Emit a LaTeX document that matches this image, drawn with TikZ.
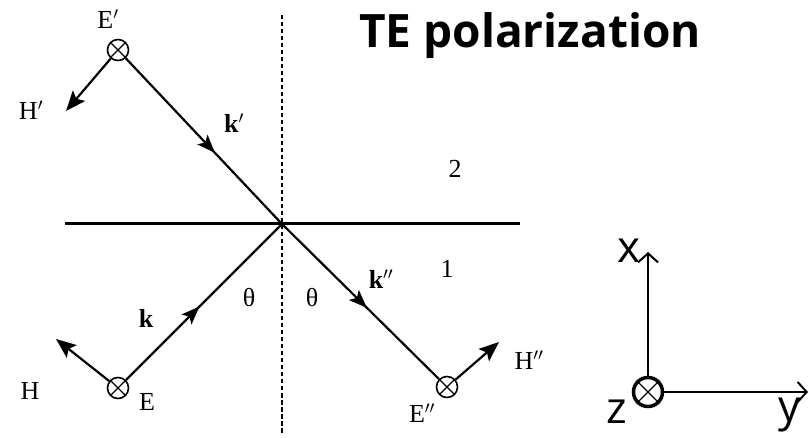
\documentclass[tikz,border=0pt]{standalone}
\usepackage{fontspec}
\setmainfont{Liberation Serif}
\newfontfamily\titlefont{Open Sans}
\usetikzlibrary{arrows.meta,decorations.markings}
\tikzset{
  ox/.style={circle, draw, minimum size=21pt, inner sep=0pt, line width=1.6pt,
    path picture={\draw[line width=1.4pt] (path picture bounding box.north west) -- (path picture bounding box.south east)
      (path picture bounding box.north east) -- (path picture bounding box.south west);}},
  ray/.style={line width=2.2pt, postaction={decorate},
    decoration={markings, mark=at position #1 with {\arrow{Stealth[length=18pt,width=14pt,inset=4pt]}}}},
  harrow/.style={line width=2.2pt, -{Stealth[length=20pt,width=16pt,inset=4pt]}},
  lbl/.style={font=\fontsize{26}{26}\selectfont, inner sep=0pt},
  klbl/.style={font=\fontsize{26}{26}\selectfont\bfseries, inner sep=0pt},
  axlbl/.style={font=\titlefont\fontsize{44}{44}\selectfont, inner sep=0pt},
  axis/.style={line width=2pt, -{Straight Barb[length=9pt,width=20pt,line width=2pt]}}
}
\begin{document}
\begin{tikzpicture}[x=1pt,y=-1pt]
\useasboundingbox (0,0) rectangle (809,438);
% interface and normal
\draw[line width=3pt] (65,224) -- (520,224);
\draw[line width=1.3pt, dash pattern=on 4.5pt off 2.5pt] (282,15) -- (282,434);
\coordinate (O) at (282,224);
% circles
\node[ox] (Ep) at (118,50) {};
\node[ox] (E) at (118,388) {};
\node[ox] (Epp) at (447,387) {};
% rays
\draw[ray=0.57] (Ep) -- (O);
\draw[ray=0.47] (E) -- (O);
\draw[ray=0.54] (O) -- (Epp);
% H arrows
\coordinate (Hpend) at (66,111);
\coordinate (Hend) at (56,339);
\coordinate (Hppend) at (499,342);
\draw[harrow] (Ep) -- (Hpend);
\draw[harrow] (E) -- (Hend);
\draw[harrow] (Epp) -- (Hppend);
% labels
\node[lbl] (lEp) at (108,19) {E$'$};
\node[lbl] (lHp) at (31,110) {H$'$};
\node[klbl] (lkp) at (234,123) {k$'$};
\node[lbl] (l2) at (455,169) {2};
\node[lbl] (l1) at (447,269) {1};
\node[klbl] (lk) at (146,318) {k};
\node[lbl] (th1) at (249,298) {θ};
\node[lbl] (th2) at (312,298) {θ};
\node[klbl] (lkpp) at (381,279) {k$''$};
\node[lbl] (lH) at (30,391) {H};
\node[lbl] (lE) at (147,402) {E};
\node[lbl] (lEpp) at (422,413) {E$''$};
\node[lbl] (lHpp) at (529,360) {H$''$};
% title
\node[font=\titlefont\bfseries\fontsize{46}{46}\selectfont, inner sep=0pt, anchor=base west] (title) at (359,48) {TE polarization};
% coordinate system
\coordinate (C) at (648,392);
\coordinate (Xend) at (648,252);
\coordinate (Yend) at (808,392);
\draw[axis] (C) -- (Xend);
\draw[axis] (C) -- (Yend);
\node[circle, draw, line width=3.5pt, minimum size=29pt, inner sep=0pt, fill=white,
  path picture={\draw[line width=1.4pt] (path picture bounding box.north west) -- (path picture bounding box.south east)
      (path picture bounding box.north east) -- (path picture bounding box.south west);}] (Cz) at (C) {};
\node[axlbl] (lx) at (629,251) {x};
\node[axlbl] (ly) at (790,415) {y};
\node[axlbl] (lz) at (617,412) {z};
\end{tikzpicture}
\end{document}
